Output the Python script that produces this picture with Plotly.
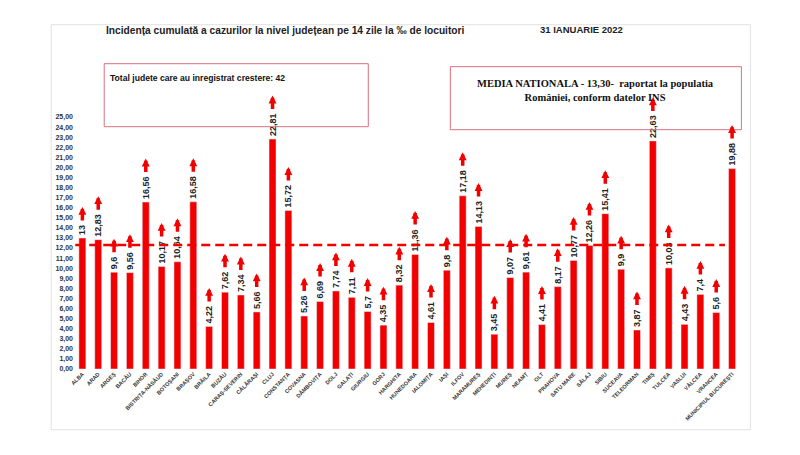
import plotly.graph_objects as go

# Data
COUNTIES = [
    'ALBA', 'ARAD', 'ARGEȘ', 'BACĂU', 'BIHOR', 'BISTRIȚA-NĂSĂUD', 'BOTOȘANI',
    'BRAȘOV', 'BRĂILA', 'BUZĂU', 'CARAȘ-SEVERIN', 'CĂLĂRAȘI', 'CLUJ',
    'CONSTANȚA', 'COVASNA', 'DÂMBOVIȚA', 'DOLJ', 'GALAȚI', 'GIURGIU', 'GORJ',
    'HARGHITA', 'HUNEDOARA', 'IALOMIȚA', 'IAȘI', 'ILFOV', 'MARAMUREȘ',
    'MEHEDINȚI', 'MUREȘ', 'NEAMȚ', 'OLT', 'PRAHOVA', 'SATU MARE', 'SĂLAJ',
    'SIBIU', 'SUCEAVA', 'TELEORMAN', 'TIMIȘ', 'TULCEA', 'VASLUI', 'VÂLCEA',
    'VRANCEA', 'MUNICIPIUL BUCUREȘTI',
]
INCIDENCE = [
    13, 12.83, 9.6, 9.56, 16.56, 10.17, 10.64, 16.58, 4.22, 7.62, 7.34, 5.66,
    22.81, 15.72, 5.26, 6.69, 7.74, 7.11, 5.7, 4.35, 8.32, 11.36, 4.61, 9.8,
    17.18, 14.13, 3.45, 9.07, 9.61, 4.41, 8.17, 10.77, 12.26, 15.41, 9.9,
    3.87, 22.63, 10.03, 4.43, 7.4, 5.6, 19.88,
]
NATIONAL_LINE = 12.3

TITLE = 'Incidența cumulată a cazurilor la nivel județean pe 14 zile la ‰ de locuitori'
DATE_TEXT = '31 IANUARIE 2022'
BOX1_TEXT = 'Total judete care au inregistrat crestere: 42'
BOX2_LINES = ['MEDIA NATIONALA - 13,30-  raportat la populatia',
              'României, conform datelor INS']

W, H = 800, 455
OFF = 8  # page body margin shifts the figure by this much
L, R, T, B = 73.8 - OFF, 800 - 739.6 + OFF, 117.3 - OFF, 455 - 369.3 + OFF
PW, PH = W - L - R, H - T - B
RED = '#f20000'
SANS = 'Liberation Sans, Arial, sans-serif'


def px(x):
    return (x - OFF - L) / PW


def py(y):
    return (H - B - (y - OFF)) / PH


labels = [f'{v:g}'.replace('.', ',') for v in INCIDENCE]

bars = go.Bar(
    x=COUNTIES, y=INCIDENCE, marker_color=RED,
    text=labels, textposition='outside', textangle=-90,
    constraintext='none', cliponaxis=False,
    textfont=dict(family=SANS, size=9, color='#222', weight='bold'),
)

fig = go.Figure(bars)

# red "increase" arrows above each label
for c, v, t in zip(COUNTIES, INCIDENCE, labels):
    lab_len = 5 * sum(ch.isdigit() for ch in t) + 2.5 * t.count(',')
    fig.add_annotation(
        x=c, y=v, text='', showarrow=True, ax=0, ay=15,
        yshift=3 + lab_len + 3 + 15,
        arrowhead=2, arrowsize=0.45, arrowwidth=3.5, arrowcolor=RED,
    )

# national average dashed line
fig.add_shape(type='line', xref='x', yref='y', x0=-0.45, x1=40.55,
              y0=NATIONAL_LINE, y1=NATIONAL_LINE,
              line=dict(color=RED, width=2.5, dash='9px,5px'))

# outer frame and text boxes
fig.add_shape(type='rect', xref='paper', yref='paper',
              x0=px(51), x1=px(750), y0=py(430), y1=py(25),
              line=dict(color='#e2e2e2', width=1), layer='below')
fig.add_shape(type='rect', xref='paper', yref='paper',
              x0=px(104), x1=px(368), y0=py(127), y1=py(64),
              line=dict(color='#d9707f', width=1))
fig.add_shape(type='rect', xref='paper', yref='paper',
              x0=px(450), x1=px(741), y0=py(130), y1=py(67),
              line=dict(color='#d9707f', width=1))

fig.add_annotation(xref='paper', yref='paper', x=px(104), y=py(31),
                   xanchor='left', yanchor='middle', showarrow=False,
                   text=TITLE,
                   font=dict(family=SANS, size=10.2, color='#222', weight='bold'))
fig.add_annotation(xref='paper', yref='paper', x=px(581), y=py(30),
                   xanchor='center', yanchor='middle', showarrow=False,
                   text=DATE_TEXT,
                   font=dict(family=SANS, size=9.5, color='#222', weight='bold'))
fig.add_annotation(xref='paper', yref='paper', x=px(108), y=py(78),
                   xanchor='left', yanchor='middle', showarrow=False,
                   text=BOX1_TEXT,
                   font=dict(family=SANS, size=8.6, color='#111', weight='bold'))
fig.add_annotation(xref='paper', yref='paper', x=px(595), y=py(91),
                   xanchor='center', yanchor='middle', showarrow=False,
                   text='<br>'.join(BOX2_LINES), align='center',
                   font=dict(family='Liberation Serif, Times New Roman, serif',
                             size=10.5, color='#111', weight='bold'))

fig.update_layout(
    width=W, height=H,
    margin=dict(l=L, r=R, t=T, b=B, autoexpand=False),
    plot_bgcolor='white', paper_bgcolor='white',
    separators=',.',
    bargap=0.56,
    showlegend=False,
)
fig.update_xaxes(
    tickangle=-45, showgrid=False, showline=False, ticks='', automargin=False,
    tickfont=dict(family=SANS, size=5.5, color='#333', weight='bold'),
)
fig.update_yaxes(
    range=[0, 25], dtick=1, tickformat='.2f', showgrid=False, automargin=False,
    showline=False, zeroline=False, ticks='',
    tickfont=dict(family=SANS, size=7, color='#333', weight='bold'),
)

fig.write_html('out.html')
